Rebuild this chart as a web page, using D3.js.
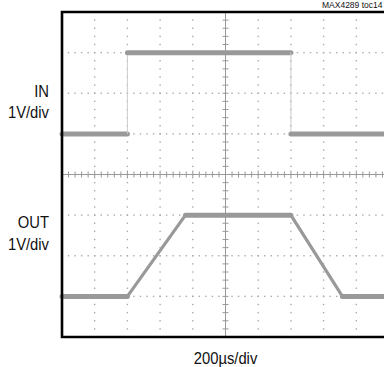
<!DOCTYPE html>
<html>
<head>
<meta charset="utf-8">
<script src="https://cdn.jsdelivr.net/npm/d3@7"></script>
<style>
  body { margin: 0; background: #fff; }
  svg { display: block; }
  .lbl { font-family: "Liberation Sans", Arial, sans-serif; fill: #111; }
</style>
</head>
<body>
<div id="scope"></div>
<script>
// scope traces (time in us, volts relative to screen centre)
const inTime  = [0, 400, 400, 1400, 1400, 2000];
const inVolts = [1, 1, 3, 3, 1, 1];
const outTime  = [0, 400, 755, 1400, 1715, 2000];
const outVolts = [-3, -3, -1, -1, -3, -3];

const xDivs = d3.range(0, 2001, 200);
const yDivs = d3.range(-4, 5, 1);

const W = 384, H = 367;
const margin = {top: 12, left: 62, bottom: 30};
const plotW = 327, plotH = 325;

const svg = d3.select("#scope")
  .append("svg")
    .attr("width", W)
    .attr("height", H);

const x = d3.scaleLinear().domain([0, 2000]).range([margin.left, margin.left + plotW]);
const y = d3.scaleLinear().domain([-4, 4]).range([margin.top + plotH, margin.top]);

// dotted graticule
const g = svg.append("g");
const subX = d3.range(0, 2001, 40);
const subY = d3.range(-4, 4.001, 0.2);
yDivs.forEach(v => {
  if (v === 0 || v === 4 || v === -4) return;
  g.selectAll(null).data(subX).enter().append("rect")
    .attr("x", d => x(d) - 0.7).attr("y", y(v) - 0.7)
    .attr("width", 1.4).attr("height", 1.4).attr("fill", "#aaa");
});
xDivs.forEach(t => {
  if (t === 1000 || t === 0) return;
  g.selectAll(null).data(subY).enter().append("rect")
    .attr("x", x(t) - 0.7).attr("y", d => y(d) - 0.7)
    .attr("width", 1.4).attr("height", 1.4).attr("fill", "#aaa");
});

// centre axes with minor ticks
g.append("line").attr("x1", x(0)).attr("x2", x(2000)).attr("y1", y(0)).attr("y2", y(0))
  .attr("stroke", "#999").attr("stroke-width", 1);
g.append("line").attr("x1", x(1000)).attr("x2", x(1000)).attr("y1", y(-4)).attr("y2", y(4))
  .attr("stroke", "#999").attr("stroke-width", 1);
g.selectAll(null).data(subX).enter().append("line")
  .attr("x1", d => x(d)).attr("x2", d => x(d))
  .attr("y1", d => y(0) - (d % 200 === 0 ? 4 : 3)).attr("y2", d => y(0) + (d % 200 === 0 ? 4 : 3))
  .attr("stroke", "#999").attr("stroke-width", 1);
g.selectAll(null).data(subY).enter().append("line")
  .attr("x1", d => x(1000) - 3).attr("x2", d => x(1000) + 3)
  .attr("y1", d => y(d)).attr("y2", d => y(d))
  .attr("stroke", "#999").attr("stroke-width", 1);

// traces, drawn segment by segment
function trace(ts, vs) {
  const segs = d3.range(ts.length - 1).map(i => ({x0: ts[i], y0: vs[i], x1: ts[i + 1], y1: vs[i + 1]}));
  svg.append("g").selectAll("line")
    .data(segs)
    .join("line")
      .attr("x1", d => x(d.x0)).attr("y1", d => y(d.y0))
      .attr("x2", d => x(d.x1)).attr("y2", d => y(d.y1))
      .attr("stroke", d => d.x0 === d.x1 ? "#ccc" : "#999")
      .attr("stroke-width", d => d.x0 === d.x1 ? 1 : (d.y0 === d.y1 ? 5 : 3.2))
      .attr("stroke-linecap", d => d.x0 === d.x1 ? "butt" : "round");
}
trace(inTime, inVolts);
trace(outTime, outVolts);

// frame
svg.append("path")
  .attr("d", `M${W + 5},${y(4)}H${x(0)}V${y(-4)}H${W + 5}`)
  .attr("fill", "none").attr("stroke", "#000").attr("stroke-width", 2.6);

// labels, squeezed horizontally to look condensed
function label(tx, ty, anchor, txt) {
  svg.append("text").attr("class", "lbl")
    .attr("transform", `translate(${tx},${ty}) scale(0.87,1)`)
    .attr("text-anchor", anchor)
    .style("font-size", "17px").text(txt);
}
label(49, 97, "end", "IN");
label(49, 118, "end", "1V/div");
label(49, 228, "end", "OUT");
label(49, 250, "end", "1V/div");
label(x(1000), 364, "middle", "200µs/div");

svg.append("text").attr("class", "lbl").attr("x", 322).attr("y", 7.5)
  .style("font-size", "8.5px").text("MAX4289 toc14");
</script>
</body>
</html>
